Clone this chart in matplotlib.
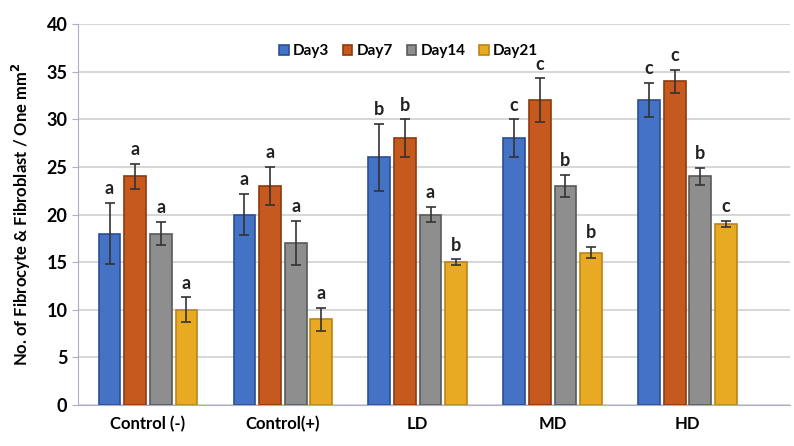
import numpy as np
import matplotlib.pyplot as plt

plt.rcParams['font.family'] = ['Lato', 'DejaVu Sans']
plt.rcParams['font.weight'] = 'bold'

groups = ['Control (-)', 'Control(+)', 'LD', 'MD', 'HD']
days = ['Day3', 'Day7', 'Day14', 'Day21']
means = {
    'Day3': [18, 20, 26, 28, 32],
    'Day7': [24, 23, 28, 32, 34],
    'Day14': [18, 17, 20, 23, 24],
    'Day21': [10, 9, 15, 16, 19],
}
errs = {
    'Day3': [3.2, 2.2, 3.5, 2.0, 1.8],
    'Day7': [1.3, 2.0, 2.0, 2.3, 1.2],
    'Day14': [1.2, 2.3, 0.8, 1.2, 0.9],
    'Day21': [1.3, 1.2, 0.3, 0.6, 0.3],
}
letters = {
    'Day3': ['a', 'a', 'b', 'c', 'c'],
    'Day7': ['a', 'a', 'b', 'c', 'c'],
    'Day14': ['a', 'a', 'a', 'b', 'b'],
    'Day21': ['a', 'a', 'b', 'b', 'c'],
}
colors = ['#4472C4', '#C65A1E', '#8E8E8E', '#E8A923']
edges = ['#2B4F95', '#8E3A0E', '#5A5A5A', '#B9851A']

fig = plt.figure(figsize=(7.94, 4.46), dpi=100)
ax = fig.add_axes([0.098, 0.092, 0.897, 0.854])

x = np.arange(len(groups))
w = 0.19
for i, d in enumerate(days):
    pos = x + (i - 1.5) * w
    ax.bar(pos, means[d], width=w * 0.85, color=colors[i], edgecolor=edges[i],
           linewidth=1.2, label=d, zorder=3)
    ax.errorbar(pos, means[d], yerr=errs[d], fmt='none', ecolor='#333333',
                elinewidth=1.2, capsize=3.5, capthick=1.2, zorder=4)
    for p, m, e, l in zip(pos, means[d], errs[d], letters[d]):
        ax.text(p, m + e + 0.6, l, ha='center', va='bottom', fontsize=13,
                fontweight='bold', color='#222222', zorder=7)

ax.set_ylim(0, 40)
ax.set_yticks(range(0, 41, 5))
ax.set_xlim(-0.52, 4.76)
ax.set_xticks(x)
ax.set_xticklabels(groups, fontsize=12, fontweight='bold')
ax.tick_params(axis='y', labelsize=13, length=4, color='#AAB0C8')
ax.tick_params(axis='x', length=0, pad=8)
ax.yaxis.grid(True, color='#D0D0D0', linewidth=1.2, zorder=0)
ax.set_ylabel('No. of Fibrocyte & Fibroblast / One mm$^2$', fontsize=12,
              fontweight='bold', labelpad=10)
for s in ['top', 'right']:
    ax.spines[s].set_visible(False)
ax.spines['left'].set_color('#AAB0C8')
ax.spines['bottom'].set_color('#AAB0C8')

leg = ax.legend(loc='upper center', bbox_to_anchor=(0.465, 0.975), ncol=4,
                frameon=True, facecolor='white', edgecolor='none', framealpha=1,
                handlelength=0.6, handleheight=0.6, handletextpad=0.3,
                columnspacing=0.9, fontsize=11, borderpad=0.2)
leg.set_zorder(6)

fig.savefig('out.png', dpi=100)
